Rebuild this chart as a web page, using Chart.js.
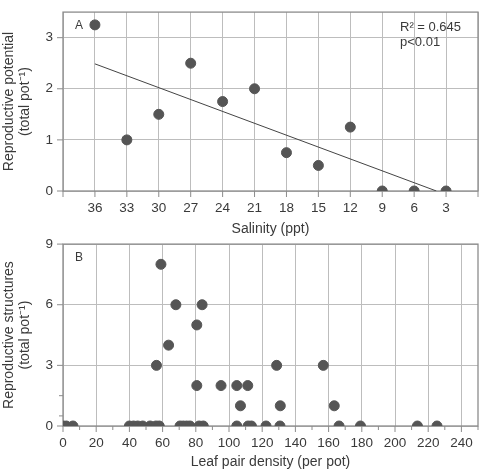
<!DOCTYPE html>
<html>
<head>
<meta charset="utf-8">
<script src="https://cdn.jsdelivr.net/npm/chart.js@4/dist/chart.umd.min.js"></script>
<style>
html,body{margin:0;padding:0;background:#fff;}
#wrap{position:relative;width:488px;height:474px;}
#cA{position:absolute;left:0;top:0;}
#cB{position:absolute;left:0;top:232px;}
</style>
</head>
<body>
<div id="wrap">
<canvas id="cA" width="488" height="240"></canvas>
<canvas id="cB" width="488" height="242"></canvas>
</div>
<script>
// ---- Panel A data ----
const salinity = [36, 33, 30, 27, 24, 21, 18, 15, 12, 9, 6, 3];
const reproPotential = [3.25, 1, 1.5, 2.5, 1.75, 2, 0.75, 0.5, 1.25, 0, 0, 0];
const salinityTicks = [39, 36, 33, 30, 27, 24, 21, 18, 15, 12, 9, 6, 3, 0];
const potentialTicks = [0, 1, 2, 3];
const statsText = ['R\u00B2 = 0.645', 'p<0.01'];

// ---- Panel B data ----
const leafDensity = [0, 2, 6, 40, 42.5, 45, 48, 52.5, 56, 58, 70.5, 72.5, 74.5, 76.5, 82, 84.5, 104.7, 111.5, 113.5, 122.3, 130.7, 166.3, 179.2, 213.5, 225.3,
  59, 68, 83.8, 80.6, 63.6, 56.3, 128.7, 156.8, 80.6, 95.2, 104.7, 111.3, 106.9, 130.9, 163.4];
const reproStructures = [0, 0, 0, 0, 0, 0, 0, 0, 0, 0, 0, 0, 0, 0, 0, 0, 0, 0, 0, 0, 0, 0, 0, 0, 0,
  8, 6, 6, 5, 4, 3, 3, 3, 2, 2, 2, 2, 1, 1, 1];
const densityLabelTicks = [0, 20, 40, 60, 80, 100, 120, 140, 160, 180, 200, 220, 240];
const densityMinorTicks = [10, 30, 50, 70, 90, 110, 130, 150, 170, 190, 210, 230, 250];
const structureTicks = [0, 3, 6, 9];
const structureMinorTicks = [0.5, 1.5];

// least-squares fit for panel A
function fit(xs, ys) {
  const n = xs.length;
  const mx = xs.reduce((a, b) => a + b, 0) / n;
  const my = ys.reduce((a, b) => a + b, 0) / n;
  let sxy = 0, sxx = 0;
  for (let i = 0; i < n; i++) { sxy += (xs[i] - mx) * (ys[i] - my); sxx += (xs[i] - mx) ** 2; }
  const b = sxy / sxx, a = my - b * mx;
  return { a, b };
}
const lf = fit(salinity, reproPotential);
const fitStart = Math.max(...salinity);
const fitEnd = -lf.a / lf.b;
const fitLine = [{ x: fitStart, y: lf.a + lf.b * fitStart }, { x: fitEnd, y: 0 }];

const FONT = 'Liberation Sans, Arial, Helvetica, sans-serif';
const DOT = '#555555';
const FRAME = '#8c8c8c';
const TXT = '#3a3a3a';

Chart.defaults.font.family = FONT;
Chart.defaults.color = TXT;

function framePlugin(cfg) {
  return {
    id: 'frame' + cfg.id,
    beforeDatasetsDraw(chart) {
      const { ctx, chartArea: ca, scales } = chart;
      ctx.save();
      ctx.strokeStyle = FRAME;
      ctx.lineWidth = 1.3;
      ctx.strokeRect(ca.left, ca.top, ca.right - ca.left, ca.bottom - ca.top);
      ctx.lineWidth = 1;
      ctx.beginPath();
      cfg.xMajor.forEach(v => { const p = scales.x.getPixelForValue(v); ctx.moveTo(p, ca.bottom); ctx.lineTo(p, ca.bottom + 6); });
      (cfg.xMinor || []).forEach(v => { const p = scales.x.getPixelForValue(v); if (p <= ca.right + 0.5) { ctx.moveTo(p, ca.bottom); ctx.lineTo(p, ca.bottom + 4); } });
      cfg.yMajor.forEach(v => { const p = scales.y.getPixelForValue(v); ctx.moveTo(ca.left - 6, p); ctx.lineTo(ca.left, p); });
      (cfg.yMinor || []).forEach(v => { const p = scales.y.getPixelForValue(v); ctx.moveTo(ca.left - 4, p); ctx.lineTo(ca.left, p); });
      ctx.stroke();
      ctx.fillStyle = TXT;
      ctx.font = '12px ' + FONT;
      ctx.textBaseline = 'middle';
      ctx.textAlign = 'left';
      ctx.fillText(cfg.letter, ca.left + 12, ca.top + 14);
      if (cfg.stats) {
        ctx.font = '13px ' + FONT;
        cfg.stats.forEach((t, i) => ctx.fillText(t, 400, ca.top + 15 + i * 15));
      }
      ctx.restore();
    }
  };
}

const gridStyle = {
  color: '#bdbdbd',
  lineWidth: 1,
  borderDash: [1, 3],
  drawTicks: true,
  tickLength: 6,
  tickColor: 'rgba(0,0,0,0)'
};

new Chart(document.getElementById('cA'), {
  type: 'scatter',
  data: {
    datasets: [
      {
        type: 'line',
        data: fitLine,
        borderColor: '#444',
        borderWidth: 1,
        pointRadius: 0,
        fill: false,
        order: 2
      },
      {
        data: salinity.map((s, i) => ({ x: s, y: reproPotential[i] })),
        backgroundColor: DOT,
        borderColor: DOT,
        pointRadius: 5,
        order: 1
      }
    ]
  },
  options: {
    responsive: false,
    animation: false,
    layout: { padding: { left: 0, right: 10, top: 5, bottom: 0 } },
    plugins: { legend: { display: false }, tooltip: { enabled: false } },
    scales: {
      x: {
        type: 'linear',
        reverse: true,
        min: 0, max: 39,
        afterBuildTicks: s => { s.ticks = salinityTicks.map(v => ({ value: v })); },
        afterFit: s => { s.height = 49; },
        grid: gridStyle,
        border: { display: false },
        ticks: {
          font: { size: 13.5 }, color: TXT, padding: 3, maxRotation: 0, autoSkip: false,
          callback: v => (v === 0 || v === 39) ? '' : String(v)
        },
        title: { display: true, text: 'Salinity (ppt)', font: { size: 14 }, color: TXT, padding: { top: 0, bottom: 2 } }
      },
      y: {
        min: 0, max: 3.5,
        afterBuildTicks: s => { s.ticks = potentialTicks.map(v => ({ value: v })); },
        afterFit: s => { s.width = 63; },
        grid: gridStyle,
        border: { display: false },
        ticks: { font: { size: 13.5 }, color: TXT, padding: 4 },
        title: { display: true, text: ['Reproductive potential', '(total pot\u207B\u00B9)'], font: { size: 14, lineHeight: 1.15 }, color: TXT, padding: { top: 1, bottom: 0 } }
      }
    }
  },
  plugins: [framePlugin({ id: 'A', xMajor: salinityTicks, yMajor: potentialTicks, letter: 'A', stats: statsText })]
});

new Chart(document.getElementById('cB'), {
  type: 'scatter',
  data: {
    datasets: [{
      data: leafDensity.map((d, i) => ({ x: d, y: reproStructures[i] })),
      backgroundColor: DOT,
      borderColor: DOT,
      pointRadius: 5
    }]
  },
  options: {
    responsive: false,
    animation: false,
    layout: { padding: { left: 0, right: 10, top: 8, bottom: 0 } },
    plugins: { legend: { display: false }, tooltip: { enabled: false } },
    scales: {
      x: {
        type: 'linear',
        min: 0, max: 250,
        afterBuildTicks: s => { s.ticks = densityLabelTicks.map(v => ({ value: v })); },
        afterFit: s => { s.height = 48; },
        grid: gridStyle,
        border: { display: false },
        ticks: { font: { size: 13.5 }, color: TXT, padding: 3, maxRotation: 0, autoSkip: false },
        title: { display: true, text: 'Leaf pair density (per pot)', font: { size: 14 }, color: TXT, padding: { top: 0, bottom: 3 } }
      },
      y: {
        min: 0, max: 9,
        afterBuildTicks: s => { s.ticks = structureTicks.map(v => ({ value: v })); },
        afterFit: s => { s.width = 63; },
        grid: gridStyle,
        border: { display: false },
        ticks: { font: { size: 13.5 }, color: TXT, padding: 4 },
        title: { display: true, text: ['Reproductive structures', '(total pot\u207B\u00B9)'], font: { size: 14, lineHeight: 1.15 }, color: TXT, padding: { top: 1, bottom: 0 } }
      }
    }
  },
  plugins: [framePlugin({ id: 'B', xMajor: densityLabelTicks, xMinor: densityMinorTicks, yMajor: structureTicks, yMinor: structureMinorTicks, letter: 'B' })]
});
</script>
</body>
</html>
